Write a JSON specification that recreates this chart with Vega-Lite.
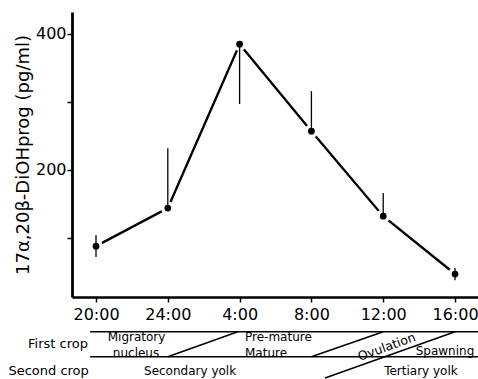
{
  "$schema": "https://vega.github.io/schema/vega-lite/v6.json",
  "autosize": "none",
  "width": 406,
  "height": 285,
  "padding": {"left": 72, "top": 12, "right": 0, "bottom": 82},
  "background": "white",
  "config": {"view": {"stroke": null}, "font": "DejaVu Sans"},
  "datasets": {
    "main": [
      {"x": 0, "y": 88, "lo": 72, "hi": 104},
      {"x": 4, "y": 144, "lo": 144, "hi": 232},
      {"x": 8, "y": 385, "lo": 297, "hi": 385},
      {"x": 12, "y": 257, "lo": 257, "hi": 316},
      {"x": 16, "y": 132, "lo": 132, "hi": 166},
      {"x": 20, "y": 47, "lo": 38, "hi": 56}
    ],
    "lines": [
      {"x": -0.33, "y": -37.8, "x2": 21.3, "y2": -37.8},
      {"x": -0.33, "y": -74.6, "x2": 21.3, "y2": -74.6},
      {"x": 4.0, "y": -74.6, "x2": 7.9, "y2": -37.8},
      {"x": 12.0, "y": -74.6, "x2": 16.0, "y2": -37.8},
      {"x": 12.76, "y": -105.9, "x2": 20.0, "y2": -37.8}
    ],
    "textCenter": [
      {"x": 2.26, "y": -46.3, "label": "Migratory"},
      {"x": 2.23, "y": -68.6, "label": "nucleus"},
      {"x": 19.44, "y": -66.2, "label": "Spawning"},
      {"x": 5.24, "y": -95.6, "label": "Secondary yolk"},
      {"x": 18.1, "y": -95.6, "label": "Tertiary yolk"}
    ],
    "textLeft": [
      {"x": 8.3, "y": -46.3, "label": "Pre-mature"},
      {"x": 8.3, "y": -68.6, "label": "Mature"}
    ],
    "textRight": [
      {"x": -0.45, "y": -55.9, "label": "First crop"},
      {"x": -0.4, "y": -95.6, "label": "Second crop"}
    ],
    "textRot": [
      {"x": 16.2, "y": -60.3, "label": "Ovulation"}
    ]
  },
  "layer": [
    {
      "data": {"name": "main"},
      "mark": {"type": "line", "color": "black", "strokeWidth": 2.3, "clip": false},
      "encoding": {
        "x": {
          "field": "x", "type": "quantitative",
          "scale": {"domain": [-1.337, 21.28], "nice": false, "zero": false},
          "axis": {
            "title": null, "values": [0, 4, 8, 12, 16, 20],
            "labelExpr": "datum.value == 0 ? '20:00' : datum.value == 4 ? '24:00' : datum.value == 8 ? '4:00' : datum.value == 12 ? '8:00' : datum.value == 16 ? '12:00' : '16:00'",
            "grid": false, "domainColor": "black", "domainWidth": 2.5,
            "tickColor": "black", "tickWidth": 1.5, "tickSize": 5,
            "labelFont": "DejaVu Sans", "labelFontSize": 16, "labelColor": "black",
            "labelPadding": 4, "labelFlush": false, "labelOverlap": false
          }
        },
        "y": {
          "field": "y", "type": "quantitative",
          "scale": {"domain": [13.2, 432.35], "nice": false, "zero": false},
          "axis": {
            "title": "17α,20β-DiOHprog (pg/ml)", "values": [100, 200, 300, 400],
            "labelExpr": "datum.value % 200 == 0 ? datum.label : ''",
            "grid": false, "domainColor": "black", "domainWidth": 2.8,
            "tickColor": "black", "tickWidth": 1.5, "tickSize": 5,
            "labelFont": "DejaVu Sans", "labelFontSize": 16, "labelColor": "black",
            "labelPadding": 1, "labelFlush": false, "labelOverlap": false,
            "titleFont": "DejaVu Sans", "titleFontSize": 18, "titleFontWeight": "normal",
            "titleColor": "black", "titlePadding": 3
          }
        }
      }
    },
    {
      "data": {"name": "main"},
      "mark": {"type": "circle", "color": "white", "opacity": 1, "size": 190, "clip": false},
      "encoding": {
        "x": {"field": "x", "type": "quantitative", "scale": {"domain": [-1.337, 21.28], "nice": false, "zero": false}},
        "y": {"field": "y", "type": "quantitative", "scale": {"domain": [13.2, 432.35], "nice": false, "zero": false}}
      }
    },
    {
      "data": {"name": "main"},
      "mark": {"type": "rule", "color": "black", "strokeWidth": 1.3, "clip": false},
      "encoding": {
        "x": {"field": "x", "type": "quantitative", "scale": {"domain": [-1.337, 21.28], "nice": false, "zero": false}},
        "y": {"field": "lo", "type": "quantitative", "scale": {"domain": [13.2, 432.35], "nice": false, "zero": false}},
        "y2": {"field": "hi"}
      }
    },
    {
      "data": {"name": "main"},
      "mark": {"type": "circle", "color": "black", "opacity": 1, "size": 45, "clip": false},
      "encoding": {
        "x": {"field": "x", "type": "quantitative", "scale": {"domain": [-1.337, 21.28], "nice": false, "zero": false}},
        "y": {"field": "y", "type": "quantitative", "scale": {"domain": [13.2, 432.35], "nice": false, "zero": false}}
      }
    },
    {
      "data": {"name": "lines"},
      "mark": {"type": "rule", "color": "black", "strokeWidth": 1.5, "clip": false},
      "encoding": {
        "x": {"field": "x", "type": "quantitative", "scale": {"domain": [-1.337, 21.28], "nice": false, "zero": false}},
        "y": {"field": "y", "type": "quantitative", "scale": {"domain": [13.2, 432.35], "nice": false, "zero": false}},
        "x2": {"field": "x2"},
        "y2": {"field": "y2"}
      }
    },
    {
      "data": {"name": "textCenter"},
      "mark": {"type": "text", "color": "black", "font": "DejaVu Sans", "fontSize": 12, "align": "center", "baseline": "middle", "clip": false},
      "encoding": {
        "x": {"field": "x", "type": "quantitative", "scale": {"domain": [-1.337, 21.28], "nice": false, "zero": false}},
        "y": {"field": "y", "type": "quantitative", "scale": {"domain": [13.2, 432.35], "nice": false, "zero": false}},
        "text": {"field": "label"}
      }
    },
    {
      "data": {"name": "textLeft"},
      "mark": {"type": "text", "color": "black", "font": "DejaVu Sans", "fontSize": 12, "align": "left", "baseline": "middle", "clip": false},
      "encoding": {
        "x": {"field": "x", "type": "quantitative", "scale": {"domain": [-1.337, 21.28], "nice": false, "zero": false}},
        "y": {"field": "y", "type": "quantitative", "scale": {"domain": [13.2, 432.35], "nice": false, "zero": false}},
        "text": {"field": "label"}
      }
    },
    {
      "data": {"name": "textRight"},
      "mark": {"type": "text", "color": "black", "font": "DejaVu Sans", "fontSize": 13, "align": "right", "baseline": "middle", "clip": false},
      "encoding": {
        "x": {"field": "x", "type": "quantitative", "scale": {"domain": [-1.337, 21.28], "nice": false, "zero": false}},
        "y": {"field": "y", "type": "quantitative", "scale": {"domain": [13.2, 432.35], "nice": false, "zero": false}},
        "text": {"field": "label"}
      }
    },
    {
      "data": {"name": "textRot"},
      "mark": {"type": "text", "color": "black", "font": "DejaVu Sans", "fontSize": 12.5, "align": "center", "baseline": "middle", "angle": 340, "clip": false},
      "encoding": {
        "x": {"field": "x", "type": "quantitative", "scale": {"domain": [-1.337, 21.28], "nice": false, "zero": false}},
        "y": {"field": "y", "type": "quantitative", "scale": {"domain": [13.2, 432.35], "nice": false, "zero": false}},
        "text": {"field": "label"}
      }
    }
  ]
}
